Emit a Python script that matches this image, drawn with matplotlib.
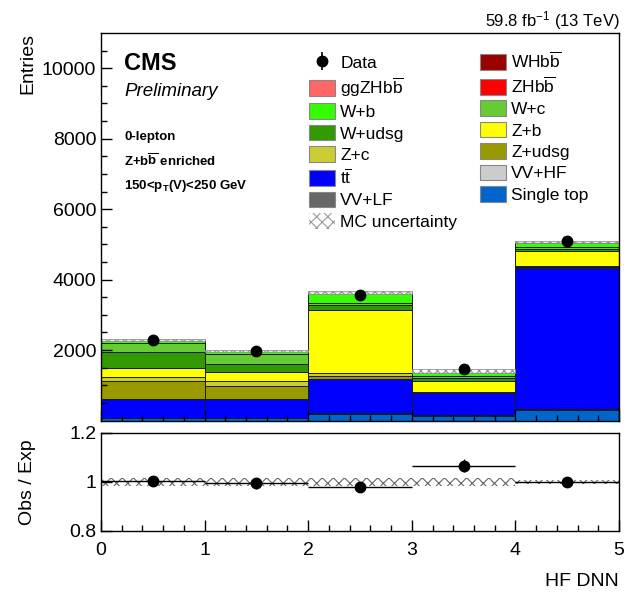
import numpy as np
import matplotlib
matplotlib.use("Agg")
import matplotlib.pyplot as plt
from matplotlib.patches import Patch

plt.rcParams["font.family"] = ["Liberation Sans", "DejaVu Sans"]
plt.rcParams["mathtext.fontset"] = "custom"
plt.rcParams["mathtext.rm"] = "Liberation Sans"
plt.rcParams["mathtext.it"] = "Liberation Sans:italic"
plt.rcParams["mathtext.bf"] = "Liberation Sans:bold"
plt.rcParams["hatch.linewidth"] = 0.8

# HF DNN bins
edges = [0, 1, 2, 3, 4, 5]

# stacked backgrounds, bottom -> top (events per bin)
single_top = [65, 65, 190, 142, 312]
vv_lf = [10, 10, 25, 10, 10]
vv_hf = [10, 10, 5, 5, 5]
ttbar = [515, 535, 964, 619, 4001]
z_udsg = [528, 374, 94, 18, 30]
z_c = [102, 123, 66, 10, 17]
z_b = [256, 256, 1800, 332, 426]
w_udsg = [464, 237, 143, 76, 76]
w_c = [247, 265, 40, 38, 47]
w_b = [76, 85, 290, 123, 124]
zh_bb = [4, 4, 10, 5, 15]
ggzh_bb = [2, 2, 5, 2, 8]
wh_bb = [3, 3, 5, 3, 7]

data = [2290, 1960, 3560, 1475, 5085]
mc_unc_up = [25, 22, 35, 90, 30]
mc_unc_down = [25, 22, 35, 20, 30]
ratio_unc = [0.018, 0.018, 0.018, 0.018, 0.008]

BB = "b$\\overline{\\mathrm{b}}$"
TT = "t$\\overline{\\mathrm{t}}$"

stack = [
    ("Single top", single_top, "#0066cc"),
    ("VV+LF", vv_lf, "#666666"),
    ("VV+HF", vv_hf, "#cccccc"),
    (TT, ttbar, "#0000ff"),
    ("Z+udsg", z_udsg, "#999900"),
    ("Z+c", z_c, "#cccc33"),
    ("Z+b", z_b, "#ffff00"),
    ("W+udsg", w_udsg, "#339900"),
    ("W+c", w_c, "#66cc33"),
    ("W+b", w_b, "#33ff00"),
    ("ZH" + BB, zh_bb, "#ff0000"),
    ("ggZH" + BB, ggzh_bb, "#ff6666"),
    ("WH" + BB, wh_bb, "#990000"),
]

x_lo = np.array(edges[:-1], dtype=float)
centers = x_lo + 0.5

fig = plt.figure(figsize=(6.36, 5.97), dpi=100)
ax = fig.add_axes([0.1588, 0.2956, 0.8145, 0.6491])
rax = fig.add_axes([0.1588, 0.1106, 0.8145, 0.1642], sharex=ax)

bottom = np.zeros(5)
handles = {}
for name, vals, col in stack:
    vals = np.array(vals, dtype=float)
    ax.bar(x_lo, vals, width=1.0, align="edge", bottom=bottom, color=col,
           edgecolor="#1a1a1a", linewidth=0.7)
    handles[name] = Patch(facecolor=col, edgecolor="#888888", linewidth=0.8)
    bottom = bottom + vals
total = bottom

# MC uncertainty band
lo = total - np.array(mc_unc_down)
hi = total + np.array(mc_unc_up)
ax.bar(x_lo, hi - lo, width=1.0, align="edge", bottom=lo, facecolor="white",
       edgecolor="#888888", hatch="xxxx", linewidth=0.6, alpha=0.9)

data = np.array(data, dtype=float)
dat = ax.errorbar(centers, data, yerr=np.sqrt(data), fmt="o", color="k",
                  ms=7.5, elinewidth=1.2, capsize=0)

ax.set_xlim(0, 5)
ax.set_ylim(0, 11000)
ax.set_yticks([2000, 4000, 6000, 8000, 10000])
ax.set_yticks(np.arange(500, 11000, 500), minor=True)
ax.tick_params(axis="both", which="major", direction="in", length=8,
               labelsize=14, width=1)
ax.tick_params(axis="both", which="minor", direction="in", length=4, width=1)
ax.set_xticks(np.arange(0, 5.01, 0.2), minor=True)
ax.tick_params(axis="x", labelbottom=False)
ax.set_ylabel("Entries", fontsize=14, loc="top")
for s in ax.spines.values():
    s.set_linewidth(1.0)

# CMS labels
ax.text(0.045, 0.905, "CMS", transform=ax.transAxes, fontsize=17,
        fontweight="bold", va="baseline")
ax.text(0.045, 0.838, "Preliminary", transform=ax.transAxes, fontsize=13.5,
        style="italic", va="baseline")
ax.text(0.045, 0.724, "0-lepton", transform=ax.transAxes, fontsize=9.5,
        fontweight="bold", va="baseline")
ax.text(0.045, 0.657, "Z+b$\\overline{\\mathbf{b}}$ enriched",
        transform=ax.transAxes, fontsize=9.5, fontweight="bold",
        va="baseline")
ax.text(0.045, 0.597, "150<p$_{\\mathbf{T}}$(V)<250 GeV",
        transform=ax.transAxes, fontsize=9.5, fontweight="bold",
        va="baseline")
fig.text(0.975, 0.956, "59.8 fb$^{-1}$ (13 TeV)", ha="right", va="baseline",
         fontsize=12)

unc_handle = Patch(facecolor="white", edgecolor="#999999", hatch="xxx",
                   linewidth=0)
col1 = [(dat, "Data"),
        (handles["ggZH" + BB], "ggZH" + BB),
        (handles["W+b"], "W+b"),
        (handles["W+udsg"], "W+udsg"),
        (handles["Z+c"], "Z+c"),
        (handles[TT], TT),
        (handles["VV+LF"], "VV+LF"),
        (unc_handle, "MC uncertainty")]
col2 = [(handles["WH" + BB], "WH" + BB),
        (handles["ZH" + BB], "ZH" + BB),
        (handles["W+c"], "W+c"),
        (handles["Z+b"], "Z+b"),
        (handles["Z+udsg"], "Z+udsg"),
        (handles["VV+HF"], "VV+HF"),
        (handles["Single top"], "Single top")]
entries = col1 + col2
ax.legend([h for h, _ in entries], [l for _, l in entries], ncol=2,
          loc="upper left", bbox_to_anchor=(0.4015, 0.955), frameon=False,
          fontsize=12.5, handlelength=1.5, handleheight=1.0,
          handletextpad=0.3, labelspacing=0.27, columnspacing=1.3,
          borderaxespad=0, borderpad=0)

# ratio panel
ratio = data / total
rerr = np.sqrt(data) / total
rax.bar(x_lo, 2 * np.array(ratio_unc), width=1.0, align="edge",
        bottom=1 - np.array(ratio_unc), facecolor="white",
        edgecolor="#666666", hatch="xxx", linewidth=0)
rax.errorbar(centers, ratio, xerr=0.5, yerr=rerr, fmt="o", color="k",
             ms=7.5, elinewidth=1.0, capsize=0)
rax.set_ylim(0.8, 1.2)
rax.set_yticks([0.8, 1.0, 1.2])
rax.set_yticklabels(["0.8", "1", "1.2"])
rax.set_xticks([0, 1, 2, 3, 4, 5])
rax.set_xticks(np.arange(0, 5.01, 0.2), minor=True)
rax.tick_params(axis="both", which="major", direction="in", length=8,
                labelsize=14, width=1)
rax.tick_params(axis="x", which="major", pad=8)
rax.tick_params(axis="x", which="minor", direction="in", length=4, width=1)
rax.set_ylabel("Obs / Exp", fontsize=14)
rax.set_xlabel("HF DNN", fontsize=14, loc="right", labelpad=10)
for s in rax.spines.values():
    s.set_linewidth(1.0)

ax.yaxis.set_label_coords(-0.125, 1.0)
rax.yaxis.set_label_coords(-0.125, 0.5)

fig.savefig("out.png", dpi=100)
